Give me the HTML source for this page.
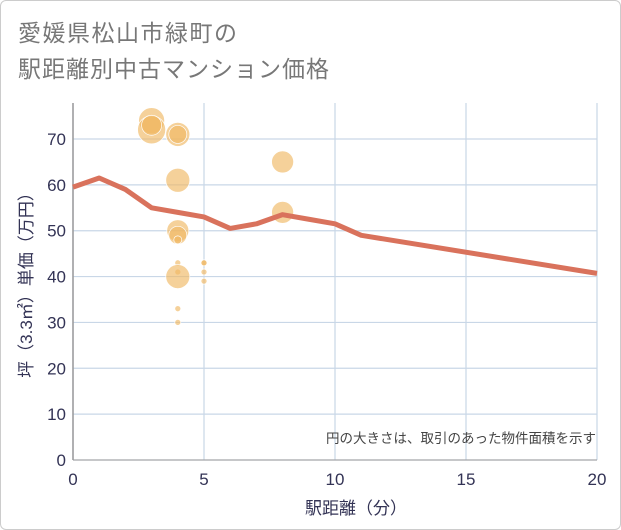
<!DOCTYPE html>
<html><head><meta charset="utf-8"><style>
body{margin:0;background:#fff;font-family:"Liberation Sans","Noto Sans CJK JP",sans-serif;}
.frame{position:absolute;left:0;top:0;width:619px;height:528px;border:1px solid #ccc;border-radius:6px;}
</style></head><body>
<div class="frame"></div>
<svg width="621" height="530" style="position:absolute;left:0;top:0">
<text x="18" y="41" font-size="23" letter-spacing="1.5" fill="#777">愛媛県松山市緑町の</text>
<text x="18" y="77" font-size="23" letter-spacing="1" fill="#777">駅距離別中古マンション価格</text>
<g id="grid"></g><g id="bubbles"></g><g id="line"></g><g id="ticks"></g>
<text x="596" y="443" font-size="13.5" fill="#444" text-anchor="end">円の大きさは、取引のあった物件面積を示す</text>
<text x="356" y="514" font-size="17" fill="#335" text-anchor="middle">駅距離（分）</text>
<text transform="translate(32,281) rotate(-90)" font-size="17" fill="#335" text-anchor="middle">坪（3.3㎡）単価（万円）</text>
</svg>
<script>
const xTicks=[0,5,10,15,20];
const yTicks=[0,10,20,30,40,50,60,70];
const lineX=[0,1,2,3,4,5,6,7,8,9,10,11,20];
const lineY=[59.5,61.5,59,55,54,53,50.5,51.5,53.5,52.5,51.5,49,40.7];
const bubX=[3,3,3,4,4,4,4,4,4,4,4,4,4,4,5,5,5,5,8,8];
const bubY=[74,72,73,71,71,61,50,49,48,43,41,40,33,30,43,43,41,39,65,54];
const bubR=[13,14,10,12,9,12,11,9,4,3,3,12,3,3,3,3,3,3,11,11];
const L=73,R=597,T=103,B=460;
const sx=v=>L+(v-0)/20*(R-L);
const sy=v=>B-v/70*(B-139);
const NS='http://www.w3.org/2000/svg';
function mk(t,a,p){const e=document.createElementNS(NS,t);for(const k in a)e.setAttribute(k,a[k]);p.appendChild(e);return e;}
const g=document.getElementById('grid'),tk=document.getElementById('ticks');
xTicks.forEach(v=>{const l=mk('line',{x1:sx(v),x2:sx(v),y1:T,y2:B,stroke:'#c9d7e7','stroke-width':1.2},g);


const t=mk('text',{x:sx(v),y:B+25,'font-size':17,fill:'#335','text-anchor':'middle'},tk);t.textContent=v;

});
yTicks.forEach(v=>{const l=mk('line',{x1:L,x2:R,y1:sy(v),y2:sy(v),stroke:'#c9d7e7','stroke-width':1.2},g);


const t=mk('text',{x:L-7,y:sy(v)+6,'font-size':17,fill:'#335','text-anchor':'end'},tk);t.textContent=v;

});
const ax=mk('line',{x1:L,x2:L,y1:T,y2:B,stroke:'#999','stroke-width':1.5},g);


const ax2=mk('line',{x1:L,x2:R,y1:B,y2:B,stroke:'#999','stroke-width':1},g);


const bg=document.getElementById('bubbles');
bubX.forEach((x,i)=>{const c=mk('circle',{cx:sx(x),cy:sy(bubY[i]),r:bubR[i],fill:'rgba(240,185,100,0.65)',stroke:'#fff','stroke-width':0.7},bg);

});
const p=mk('polyline',{points:lineX.map((x,i)=>sx(x)+','+sy(lineY[i])).join(' '),fill:'none',stroke:'#d9725c','stroke-width':5,'stroke-linejoin':'round'},document.getElementById('line'));


</script>
</body></html>
